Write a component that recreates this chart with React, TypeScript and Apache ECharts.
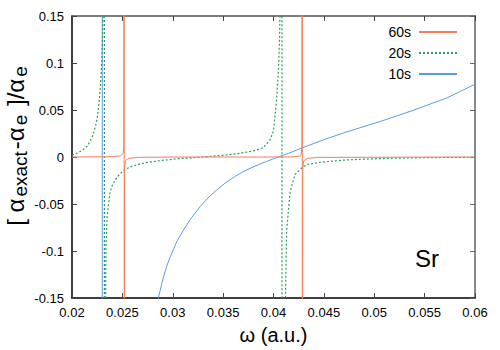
import React, { useEffect, useRef } from "react";
import * as echarts from "echarts";

// 10s (blue, solid)
const s10X = [0.0200, 0.0215, 0.0225, 0.02299, 0.02302, 0.0235, 0.0250, 0.0270, 0.02857, 0.0290, 0.0294, 0.02973, 0.0304, 0.03105, 0.0318, 0.0327, 0.0335, 0.03436, 0.0352, 0.03601, 0.0368, 0.03767, 0.0385, 0.03932, 0.0400, 0.04065, 0.0415, 0.0428, 0.0450, 0.0473, 0.0506, 0.0539, 0.0572, 0.0600];
const s10Y = [0.60, 1.0, 2.5, 20, -20, -2.5, -0.6, -0.25, -0.150, -0.1307, -0.1163, -0.1067, -0.0899, -0.0780, -0.0655, -0.0530, -0.0436, -0.0350, -0.0278, -0.0218, -0.0167, -0.0121, -0.0082, -0.0047, -0.0019, 0.0007, 0.0040, 0.0095, 0.0185, 0.0268, 0.0378, 0.0498, 0.0628, 0.0774];

// 20s (green, dotted)
const s20X = [0.0200, 0.0206, 0.0211, 0.0215, 0.0218, 0.0221, 0.0223, 0.0225, 0.0226, 0.0227, 0.0228, 0.0229, 0.0230, 0.02305, 0.0231, 0.02316, 0.02320, 0.02323, 0.02328, 0.02337, 0.0235, 0.02377, 0.0240, 0.0245, 0.0252, 0.0260, 0.0274, 0.0290, 0.0307, 0.0330, 0.0350, 0.0367, 0.0380, 0.0390, 0.03965, 0.0400, 0.0403, 0.0405, 0.0406, 0.0407, 0.04082, 0.04086, 0.0411, 0.04119, 0.0413, 0.04164, 0.04213, 0.0428, 0.0433, 0.0445, 0.0456, 0.0470, 0.0489, 0.0515, 0.0539, 0.0570, 0.0600];
const s20Y = [0.0020, 0.0045, 0.0078, 0.0115, 0.0170, 0.0240, 0.0315, 0.0410, 0.0500, 0.0600, 0.0730, 0.0900, 0.1150, 0.140, 0.170, 0.40, 5, -5, -0.30, -0.096, -0.062, -0.0376, -0.030, -0.021, -0.0135, -0.0095, -0.0060, -0.0035, -0.0017, 0.0000, 0.0018, 0.0040, 0.0065, 0.0100, 0.0180, 0.0280, 0.060, 0.095, 0.125, 0.20, 5, -5, -0.20, -0.148, -0.079, -0.0376, -0.0185, -0.0116, -0.0081, -0.0058, -0.0047, -0.0033, -0.0023, -0.0014, -0.0009, -0.0005, -0.0002];

// 60s (orange, solid)
const s60X = [0.0200, 0.0240, 0.0248, 0.02508, 0.02514, 0.02518, 0.02518, 0.02522, 0.0253, 0.0256, 0.0265, 0.0300, 0.0410, 0.0420, 0.0427, 0.04276, 0.04282, 0.04286, 0.04286, 0.04290, 0.0430, 0.0434, 0.0443, 0.0600];
const s60Y = [0, 0.0003, 0.0012, 0.004, 0.012, 3, -3, -0.012, -0.004, -0.0015, -0.0004, 0, 0, 0.0003, 0.0012, 0.004, 0.012, 3, -3, -0.012, -0.004, -0.0015, -0.0004, 0];

const legendOrder = ["60s", "20s", "10s"];

const pairs = (xs: number[], ys: number[]) => xs.map((x, i) => [x, ys[i]]);

export default function App() {
  const ref = useRef<HTMLDivElement>(null);
  useEffect(() => {
    const chart = echarts.init(ref.current!, null, { renderer: "svg" });
    const font = "'Liberation Sans', Arial, sans-serif";
    const fmt = (v: number) => String(parseFloat(v.toFixed(4)));
    const axisCommon = { splitLine: { show: false } };
    chart.setOption({
      animation: false,
      backgroundColor: "#ffffff",
      grid: { left: 72, right: 25, top: 16, bottom: 45, containLabel: false },
      xAxis: [
        {
          ...axisCommon,
          type: "value", min: 0.02, max: 0.06, interval: 0.005, position: "bottom",
          axisLine: { show: true, onZero: false, lineStyle: { color: "#000", width: 1.5 } },
          axisTick: { show: true, inside: true, length: 5, lineStyle: { color: "#444" } },
          axisLabel: { formatter: fmt, color: "#000", fontSize: 13, fontFamily: font, margin: 8 },
          name: "ω (a.u.)", nameLocation: "middle", nameGap: 27,
          nameTextStyle: { fontSize: 20, color: "#000", fontFamily: font },
        },
        {
          ...axisCommon,
          type: "value", min: 0.02, max: 0.06, interval: 0.005, position: "top",
          axisLine: { show: true, onZero: false, lineStyle: { color: "#555", width: 1.5 } },
          axisTick: { show: true, inside: true, length: 5, lineStyle: { color: "#444" } },
          axisLabel: { show: false },
        },
      ],
      yAxis: [
        {
          ...axisCommon,
          type: "value", min: -0.15, max: 0.15, interval: 0.05, position: "left",
          axisLine: { show: true, onZero: false, lineStyle: { color: "#000", width: 1.5 } },
          axisTick: { show: true, inside: true, length: 5, lineStyle: { color: "#444" } },
          axisLabel: { formatter: fmt, color: "#000", fontSize: 13, fontFamily: font, margin: 8 },
        },
        {
          ...axisCommon,
          type: "value", min: -0.15, max: 0.15, interval: 0.05, position: "right",
          axisLine: { show: true, onZero: false, lineStyle: { color: "#888", width: 2 } },
          axisTick: { show: true, inside: true, length: 5, lineStyle: { color: "#666" } },
          axisLabel: { show: false },
        },
      ],
      legend: {
        data: legendOrder,
        orient: "vertical",
        right: 42,
        top: 25,
        padding: 0,
        align: "right",
        itemWidth: 38,
        itemHeight: 14,
        itemGap: 7,
        selectedMode: false,
        itemStyle: { opacity: 0, color: "rgba(0,0,0,0)", borderWidth: 0 },
        textStyle: { fontSize: 14, fontFamily: font, color: "#000", padding: [0, 3, 0, 0] },
      },
      series: [
        {
          name: "10s", type: "line", data: pairs(s10X, s10Y), symbol: "none", clip: true,
          lineStyle: { color: "#5b9be3", width: 1 }, itemStyle: { color: "#5b9be3" },
        },
        {
          name: "20s", type: "line", data: pairs(s20X, s20Y), symbol: "none", clip: true,
          lineStyle: { color: "#2a9d5c", width: 1.2, type: [2, 2] }, itemStyle: { color: "#2a9d5c" },
        },
        {
          name: "60s", type: "line", data: pairs(s60X, s60Y), symbol: "none", clip: true,
          lineStyle: { color: "#f47f5a", width: 1 }, itemStyle: { color: "#f47f5a" },
        },
      ],
      graphic: [
        {
          type: "text", x: 15, y: 145, rotation: Math.PI / 2,
          style: {
            text: "[ α{s|exact}-α{s|e} ]/α{s|e}",
            fontSize: 24, fontFamily: font, fill: "#000", lineHeight: 30,
            align: "center", verticalAlign: "middle",
            rich: { s: { fontSize: 19, fontFamily: font, fill: "#000", lineHeight: 19, verticalAlign: "bottom", padding: [0, 2, 0, 2] } },
          },
        },
        {
          type: "text", x: 415, y: 258,
          style: { text: "Sr", fontSize: 24, fontFamily: font, fill: "#000", align: "left", verticalAlign: "middle" },
        },
      ],
    });
    return () => chart.dispose();
  }, []);
  return <div ref={ref} style={{ width: 500, height: 350, position: "absolute", left: 0, top: 0 }} />;
}
